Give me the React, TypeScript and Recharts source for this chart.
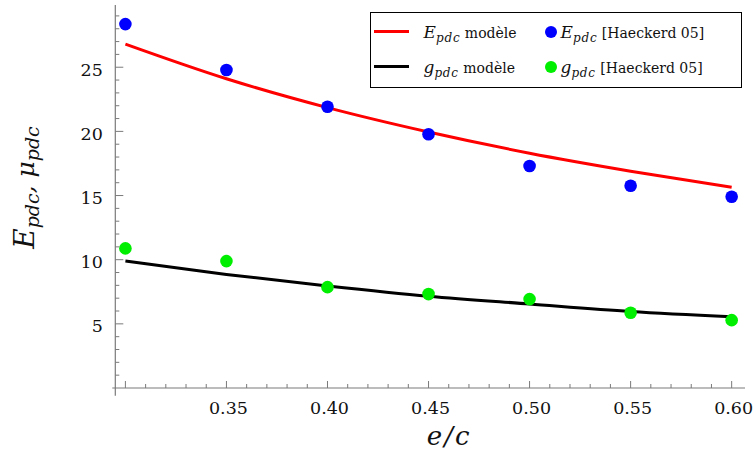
import React from 'react';
import { ComposedChart, Line, Scatter, XAxis, YAxis, Legend, ReferenceLine } from 'recharts';

// ---- data ----
const eOverC = [0.30, 0.35, 0.40, 0.45, 0.50, 0.55, 0.60];
const eModel = [26.8, 24.1, 21.85, 19.95, 18.3, 16.9, 15.65];
const gModel = [9.9, 8.85, 7.95, 7.15, 6.55, 5.97, 5.55];
const eHaeckerd = [28.36, 24.78, 21.92, 19.78, 17.3, 15.76, 14.9];
const gHaeckerd = [10.88, 9.89, 7.86, 7.32, 6.93, 5.86, 5.29];
const xTickLabels = ['0.35', '0.40', '0.45', '0.50', '0.55', '0.60'];
const yTickLabels = ['5', '10', '15', '20', '25'];

const eModelData = eOverC.map((x, i) => ({ x, y: eModel[i] }));
const gModelData = eOverC.map((x, i) => ({ x, y: gModel[i] }));
const eData = eOverC.map((x, i) => ({ x, y: eHaeckerd[i] }));
const gData = eOverC.map((x, i) => ({ x, y: gHaeckerd[i] }));

const xTicks: number[] = [];
for (let i = 30; i <= 60; i++) xTicks.push(i / 100);
const yTicks: number[] = [];
for (let i = 1; i <= 29; i++) yTicks.push(i);

const FONT = '"DejaVu Serif", "Liberation Serif", serif';
const AXIS = '#7a7a7a';

const XTick = (props: any) => {
  const { x, y, payload } = props;
  const v = payload.value;
  const k = Math.round(v * 100);
  const major = k % 5 === 0;
  const label = xTickLabels.find((l) => Math.abs(parseFloat(l) - v) < 1e-9);
  return (
    <g>
      <line x1={x} x2={x} y1={y} y2={y - (major ? 7 : 4)} stroke={AXIS} strokeWidth={1} />
      {label ? (
        <text x={x + 2} y={y + 25.5} textAnchor="middle" fontFamily={FONT} fontSize={17.5} fill="#111">
          {label}
        </text>
      ) : null}
    </g>
  );
};

const YTick = (props: any) => {
  const { x, y, payload } = props;
  const v = payload.value;
  const major = v % 5 === 0;
  const label = yTickLabels.find((l) => parseFloat(l) === v);
  return (
    <g>
      <line x1={x} x2={x + (major ? 8 : 4)} y1={y} y2={y} stroke={AXIS} strokeWidth={1} />
      {label ? (
        <text x={x - 12.5} y={y + 8.5} textAnchor="end" fontFamily={FONT} fontSize={17.5} fill="#111">
          {label}
        </text>
      ) : null}
    </g>
  );
};

const XLabel = (props: any) => {
  const vb = props.viewBox || {};
  const cx = vb.x + vb.width / 2 + 19;
  return (
    <text x={cx} y={vb.y + 57} textAnchor="middle" fontFamily={FONT} fontStyle="italic" fontSize={26} fill="#111" letterSpacing={2}>
      e/c
    </text>
  );
};

const YLabel = (props: any) => {
  const vb = props.viewBox || {};
  const cx = 34;
  const cy = vb.y + vb.height / 2 - 9;
  return (
    <text x={cx} y={cy} transform={`rotate(-90, ${cx}, ${cy})`} textAnchor="middle" fontFamily={FONT} fontStyle="italic" fill="#111">
      <tspan fontSize={28}>E</tspan>
      <tspan fontSize={19} dy={5}>pdc</tspan>
      <tspan fontSize={25} dy={-5}>, μ</tspan>
      <tspan fontSize={19} dy={5}>pdc</tspan>
    </text>
  );
};

const MathSym = ({ sym }: { sym: string }) => (
  <span style={{ fontStyle: 'italic', whiteSpace: 'nowrap' }}>
    <span style={{ fontSize: 17 }}>{sym}</span>
    <span style={{ fontSize: 12, position: 'relative', top: 4, letterSpacing: 0.8 }}>pdc</span>
  </span>
);

const LegendBox = () => {
  const rows = [
    { sym: 'E', line: '#ff0000', dot: '#0000ff' },
    { sym: 'g', line: '#000000', dot: '#00ee00' },
  ];
  return (
    <div
      style={{
        position: 'relative',
        width: 372,
        height: 76,
        border: '1.5px solid #000',
        boxSizing: 'border-box',
        background: '#fff',
        fontFamily: FONT,
        fontSize: 14,
        color: '#111',
      }}
    >
      {rows.map((r, i) => {
        const top = i === 0 ? 19 : 54;
        return (
          <React.Fragment key={r.sym}>
            <div style={{ position: 'absolute', left: 3, top: top - 1.5, width: 35, height: 3, background: r.line }} />
            <div style={{ position: 'absolute', left: 53, top: top - 12, height: 24, lineHeight: '24px', whiteSpace: 'nowrap' }}>
              <MathSym sym={r.sym} /> modèle
            </div>
            <div style={{ position: 'absolute', left: 174, top: top - 6, width: 12, height: 12, borderRadius: 6, background: r.dot }} />
            <div style={{ position: 'absolute', left: 190, top: top - 12, height: 24, lineHeight: '24px', whiteSpace: 'nowrap' }}>
              <MathSym sym={r.sym} /> [Haeckerd 05]
            </div>
          </React.Fragment>
        );
      })}
    </div>
  );
};

const dotShape = (color: string) => (p: any) => <circle cx={p.cx} cy={p.cy} r={6.3} fill={color} />;

export default function App() {
  return (
    <div style={{ position: 'absolute', left: 0, top: 0, width: 755, height: 454, background: '#fff' }}>
      <ComposedChart width={755} height={454} margin={{ top: 5, right: 10, bottom: 16, left: 55.3 }}>
        <XAxis
          type="number"
          dataKey="x"
          domain={[0.295, 0.6066]}
          allowDataOverflow
          ticks={xTicks}
          interval={0}
          tick={<XTick />}
          tickLine={false}
          tickSize={0}
          tickMargin={0}
          axisLine={false}
          height={50}
          label={<XLabel />}
        />
        <YAxis
          type="number"
          dataKey="y"
          domain={[0, 29.85]}
          allowDataOverflow
          ticks={yTicks}
          interval={0}
          tick={<YTick />}
          tickLine={false}
          tickSize={0}
          tickMargin={0}
          axisLine={false}
          width={60}
          label={<YLabel />}
        />
        <ReferenceLine segment={[{ x: 0.295, y: -0.6 }, { x: 0.295, y: 29.85 }]} stroke={AXIS} strokeWidth={1.2} ifOverflow="visible" />
        <ReferenceLine segment={[{ x: 0.2935, y: 0 }, { x: 0.6066, y: 0 }]} stroke={AXIS} strokeWidth={1.2} ifOverflow="visible" />
        <Line data={eModelData} dataKey="y" type="monotone" stroke="#ff0000" strokeWidth={3} dot={false} isAnimationActive={false} name="E model" />
        <Line data={gModelData} dataKey="y" type="monotone" stroke="#000000" strokeWidth={3} dot={false} isAnimationActive={false} name="g model" />
        <Scatter data={eData} dataKey="y" fill="#0000ff" shape={dotShape('#0000ff')} isAnimationActive={false} name="E data" />
        <Scatter data={gData} dataKey="y" fill="#00ee00" shape={dotShape('#00ee00')} isAnimationActive={false} name="g data" />
        <Legend
          layout="vertical"
          align="center"
          verticalAlign="middle"
          content={<LegendBox />}
          wrapperStyle={{ left: 369.5, top: 11.5, width: 372, height: 76 }}
        />
      </ComposedChart>
    </div>
  );
}
